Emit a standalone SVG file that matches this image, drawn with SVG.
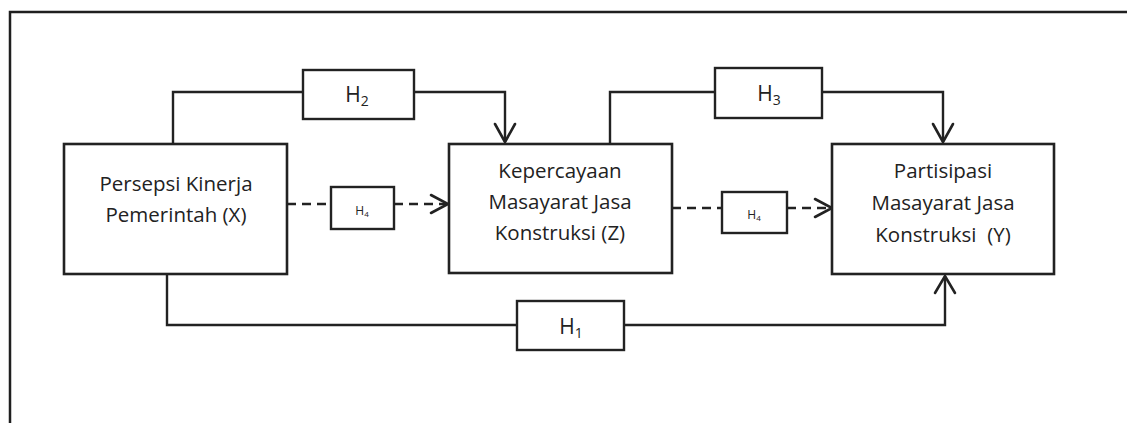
<svg xmlns="http://www.w3.org/2000/svg" width="1127" height="423" viewBox="0 0 1127 423">
  <style>
    .frame { fill: none; stroke: #1f1f1f; stroke-width: 2.5; }
    .box { fill: #ffffff; stroke: #222222; stroke-width: 2.6; }
    .lbl { fill: #ffffff; stroke: #222222; stroke-width: 2.4; }
    .wire { fill: none; stroke: #222222; stroke-width: 2.4; }
    .dash { fill: none; stroke: #222222; stroke-width: 2.6; stroke-dasharray: 9 6; }
    .head { fill: none; stroke: #222222; stroke-width: 2.6; stroke-linecap: round; stroke-linejoin: miter; }
    .t { font-family: "Open Sans", "Noto Sans", sans-serif; font-size: 20.5px; fill: #222222; text-anchor: middle; }
    .h { font-family: "Open Sans", "Noto Sans", sans-serif; font-size: 21px; fill: #222222; text-anchor: middle; }
    .hs { font-family: "Open Sans", "Noto Sans", sans-serif; font-size: 12px; fill: #222222; text-anchor: middle; }
  </style>

  <!-- open frame: top and left edges -->
  <path class="frame" d="M10,423 V12 H1127"/>

  <!-- connectors -->
  <g id="connectors">
    <!-- X -> Z via H2 -->
    <path class="wire" d="M173,144 V92 H303"/>
    <path class="wire" d="M414,92 H505 V142"/>
    <path class="head" d="M495,124 L505,142 L515,124"/>
    <!-- Z -> Y via H3 -->
    <path class="wire" d="M610,144 V92 H715"/>
    <path class="wire" d="M822,92 H943 V142"/>
    <path class="head" d="M933,124 L943,142 L953,124"/>
    <!-- X -> Y via H1 -->
    <path class="wire" d="M167,274 V325 H517"/>
    <path class="wire" d="M624,325 H945 V276"/>
    <path class="head" d="M935,293 L945,276 L955,293"/>
    <!-- X -> Z via H4 (dashed) -->
    <path class="dash" d="M287,204 H331"/>
    <path class="dash" d="M394,204 H446"/>
    <path class="head" d="M431,195 L448,204 L431,213"/>
    <!-- Z -> Y via H4 (dashed) -->
    <path class="dash" d="M672,208 H722"/>
    <path class="dash" d="M787,208 H830"/>
    <path class="head" d="M815,199 L832,208 L815,217"/>
  </g>

  <!-- hypothesis labels -->
  <g id="h2">
    <rect class="lbl" x="303" y="70" width="111" height="49"/>
    <text class="h" x="357" y="102">H<tspan font-size="14" dy="4">2</tspan></text>
  </g>
  <g id="h3">
    <rect class="lbl" x="715" y="68" width="107" height="50"/>
    <text class="h" x="769" y="101">H<tspan font-size="14" dy="4">3</tspan></text>
  </g>
  <g id="h1">
    <rect class="lbl" x="517" y="301" width="107" height="49"/>
    <text class="h" x="571" y="334">H<tspan font-size="14" dy="4">1</tspan></text>
  </g>
  <g id="h4a">
    <rect class="lbl" x="331" y="187" width="63" height="42"/>
    <text class="hs" x="362" y="215">H<tspan font-size="8" dy="2">4</tspan></text>
  </g>
  <g id="h4b">
    <rect class="lbl" x="722" y="192" width="65" height="41"/>
    <text class="hs" x="754" y="219">H<tspan font-size="8" dy="2">4</tspan></text>
  </g>

  <!-- variables -->
  <g id="node-x">
    <rect class="box" x="64" y="144" width="223" height="130"/>
    <text class="t" x="176" y="191">Persepsi Kinerja</text>
    <text class="t" x="176" y="222">Pemerintah (X)</text>
  </g>
  <g id="node-z">
    <rect class="box" x="449" y="144" width="223" height="129"/>
    <text class="t" x="560" y="178">Kepercayaan</text>
    <text class="t" x="560" y="209">Masayarat Jasa</text>
    <text class="t" x="560" y="240">Konstruksi (Z)</text>
  </g>
  <g id="node-y">
    <rect class="box" x="832" y="144" width="222" height="130"/>
    <text class="t" x="943" y="178">Partisipasi</text>
    <text class="t" x="943" y="210">Masayarat Jasa</text>
    <text class="t" x="943" y="242" xml:space="preserve">Konstruksi  (Y)</text>
  </g>
</svg>
